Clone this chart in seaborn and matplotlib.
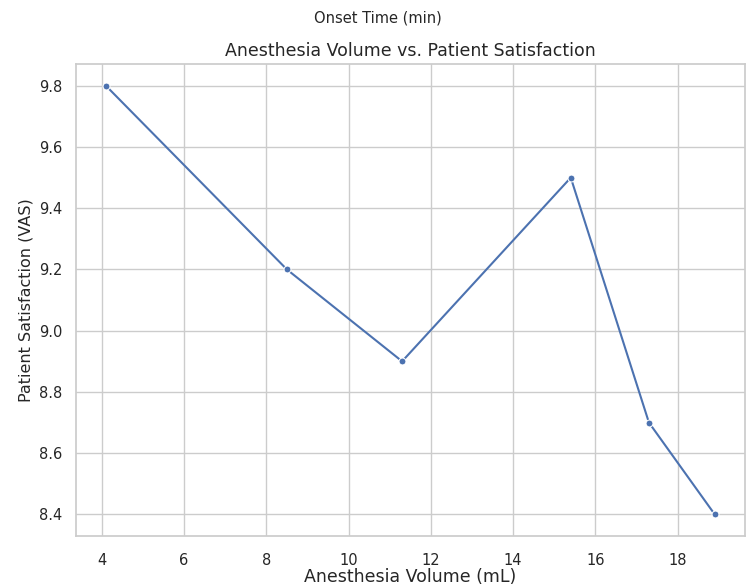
import matplotlib
matplotlib.use("Agg")
import matplotlib.pyplot as plt
import seaborn as sns
import pandas as pd

# values
volume_ml = [4.1, 8.5, 11.3, 15.4, 17.3, 18.9]
satisfaction_vas = [9.8, 9.2, 8.9, 9.5, 8.7, 8.4]

df = pd.DataFrame({"Anesthesia Volume (mL)": volume_ml,
                   "Patient Satisfaction (VAS)": satisfaction_vas})

sns.set_theme(style="whitegrid")

fig, ax = plt.subplots(figsize=(7.55, 5.85), dpi=100)
sns.lineplot(data=df, x="Anesthesia Volume (mL)", y="Patient Satisfaction (VAS)",
             marker="o", markersize=5, ax=ax)

ax.set_title("Anesthesia Volume vs. Patient Satisfaction", fontsize=12.5, pad=6)
ax.set_xlabel("Anesthesia Volume (mL)", fontsize=12.5, labelpad=0)
ax.set_ylabel("Patient Satisfaction (VAS)", fontsize=11.5)
ax.tick_params(axis="x", pad=6, labelsize=10.5)
ax.tick_params(axis="y", labelsize=10.5)
fig.suptitle("Onset Time (min)", fontsize=10.5, y=0.982)

fig.subplots_adjust(left=0.1, right=0.987, top=0.89, bottom=0.084)
plt.savefig("out.png", dpi=100)
plt.close()
